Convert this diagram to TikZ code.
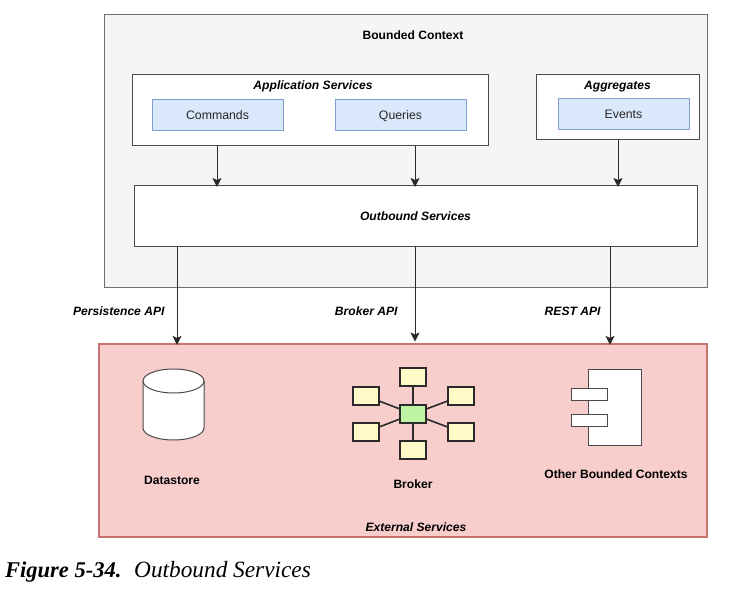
\documentclass[tikz,border=0pt]{standalone}
\usepackage{fontspec}
\setmainfont{Liberation Sans}
\newfontfamily\captionserif{Liberation Serif}
\usetikzlibrary{arrows.meta}
\definecolor{contextfill}{HTML}{F5F5F5}
\definecolor{contextline}{HTML}{6E6E6E}
\definecolor{boxline}{HTML}{4A4A4A}
\definecolor{bluefill}{HTML}{DAE8FC}
\definecolor{blueline}{HTML}{7FA0CF}
\definecolor{pinkfill}{HTML}{F8CECC}
\definecolor{pinkline}{HTML}{C9726E}
\definecolor{satfill}{HTML}{FFFAC8}
\definecolor{hubfill}{HTML}{BDF5A5}
\definecolor{iconline}{HTML}{2A2A2A}
\tikzset{
  box/.style={draw=boxline,fill=white,line width=1pt,inner sep=0pt},
  bluebox/.style={draw=blueline,fill=bluefill,line width=1pt,inner sep=0pt,text=black!85,text height=10.2pt,text depth=1.4pt,font=\fontsize{12.3}{14}\selectfont},
  boldlabel/.style={inner sep=0pt,text height=10.2pt,text depth=1.4pt,font=\fontsize{12.1}{14}\selectfont\bfseries},
  itlabel/.style={boldlabel,font=\fontsize{12.1}{14}\selectfont\bfseries\itshape},
  sat/.style={draw=iconline,fill=satfill,line width=1.6pt,inner sep=0pt,minimum width=26pt,minimum height=18pt},
  flow/.style={-{Stealth[length=9pt,width=9pt,inset=2pt]},line width=1pt,draw=iconline,shorten >=-1.5pt}
}
\begin{document}
\begin{tikzpicture}[x=1pt,y=-1pt]
    \useasboundingbox [fill=white] (0,0) rectangle (742,599);

    % bounded context
    \node [draw=contextline,fill=contextfill,line width=1pt,inner sep=0pt,minimum width=603pt,minimum height=272pt] (context) at (405.5,151) {};
    \node [boldlabel] (contexttitle) at (413,35) {Bounded Context};

    \node [box,minimum width=356pt,minimum height=71pt] (appservices) at (310,110.5) {};
    \node [itlabel] (apptitle) at (313,85) {Application Services};
    \node [bluebox,minimum width=131pt,minimum height=31pt] (commands) at (217.5,115.5) {Commands};
    \node [bluebox,minimum width=131pt,minimum height=31pt] (queries) at (400.5,115.5) {Queries};

    \node [box,minimum width=163pt,minimum height=65pt] (aggregates) at (617.5,107.5) {};
    \node [itlabel] (aggtitle) at (617.5,85) {Aggregates};
    \node [bluebox,minimum width=131pt,minimum height=31pt] (events) at (623.5,114.5) {Events};

    \node [box,itlabel,draw=boxline,minimum width=563pt,minimum height=60pt] (outbound) at (415.5,216) {Outbound Services};

    % external services
    \node [draw=pinkline,fill=pinkfill,line width=1.2pt,inner sep=0pt,minimum width=608pt,minimum height=193pt] (external) at (403,440.5) {};
    \node [itlabel] (externaltitle) at (416,527) {External Services};

    \draw [draw=boxline,fill=white,line width=1pt] (143,381) arc [start angle=180,end angle=360,x radius=30.5,y radius=12]
    -- (204,428) arc [start angle=0,end angle=180,x radius=30.5,y radius=12] -- cycle;
    \draw [draw=boxline,line width=1pt] (143,381) arc [start angle=180,end angle=0,x radius=30.5,y radius=12];
    \node [boldlabel] (datastorelabel) at (172,480) {Datastore};

    \node [sat,fill=hubfill] (hub) at (413,414) {};
    \node [sat] (sat1) at (413,377) {};
    \node [sat] (sat2) at (461,396) {};
    \node [sat] (sat3) at (461,432) {};
    \node [sat] (sat4) at (413,450) {};
    \node [sat] (sat5) at (366,432) {};
    \node [sat] (sat6) at (366,396) {};
    \foreach \n in {1,...,6}
      \draw [line width=1.6pt,draw=iconline] (hub) -- (sat\n);
    \node [boldlabel] (brokerlabel) at (413,484) {Broker};

    \node [box,minimum width=53pt,minimum height=76pt] (component) at (615,407) {};
    \node [box,minimum width=36pt,minimum height=12pt] (tab1) at (589,394) {};
    \node [box,minimum width=36pt,minimum height=12pt] (tab2) at (589,420.5) {};
    \node [boldlabel] (otherlabel) at (616,474) {Other Bounded Contexts};

    % arrows
    \coordinate (cmd) at (217,0);
    \coordinate (agg) at (618,0);
    \coordinate (mid) at (415,0);
    \coordinate (left) at (177,0);
    \coordinate (right) at (610,0);
    \coordinate (brokertip) at (415,340);
    \draw [flow] (cmd |- appservices.south) -- (cmd |- outbound.north);
    \draw [flow] (mid |- appservices.south) -- (mid |- outbound.north);
    \draw [flow] (agg |- aggregates.south) -- (agg |- outbound.north);
    \draw [flow] (left |- outbound.south) -- (left |- external.north)
    node [pos=0.665,left=12pt,itlabel] (persistence) {Persistence API};
    \draw [flow] (mid |- outbound.south) -- (brokertip)
    node [pos=0.695,left=17pt,itlabel] (brokerapi) {Broker API};
    \draw [flow] (right |- outbound.south) -- (right |- external.north)
    node [pos=0.665,left=9pt,itlabel] (restapi) {REST API};

    % caption
    \node [anchor=base west,inner sep=0pt,font=\captionserif\fontsize{22.5}{26}\selectfont\bfseries\itshape] (figno) at (5,577) {Figure 5-34.};
    \node [anchor=base west,inner sep=0pt,font=\captionserif\fontsize{23.3}{26}\selectfont\itshape] (figtitle) at (134,577) {Outbound Services};
  \end{tikzpicture}
\end{document}
